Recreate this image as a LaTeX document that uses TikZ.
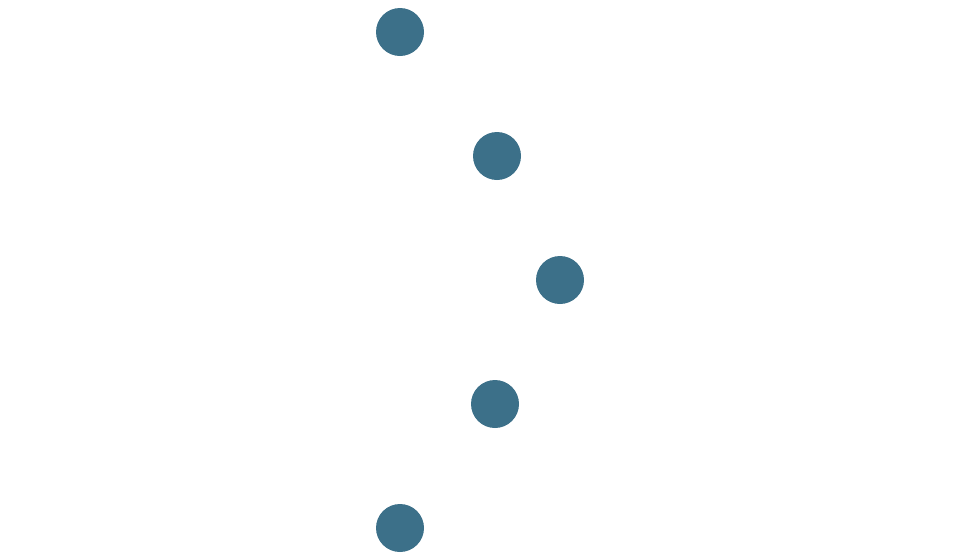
\documentclass[tikz,border=0pt]{standalone}
\definecolor{dotblue}{RGB}{60,112,137}
\begin{document}
\begin{tikzpicture}[x=1pt,y=-1pt,
  dot/.style={circle,fill=dotblue,draw=none,minimum size=48pt,inner sep=0pt}]
\useasboundingbox (0,0) rectangle (962,560);
\node[dot] (n1) at (400,32) {};
\node[dot] (n2) at (497,156) {};
\node[dot] (n3) at (560,280) {};
\node[dot] (n4) at (495,404) {};
\node[dot] (n5) at (400,528) {};
\end{tikzpicture}
\end{document}
